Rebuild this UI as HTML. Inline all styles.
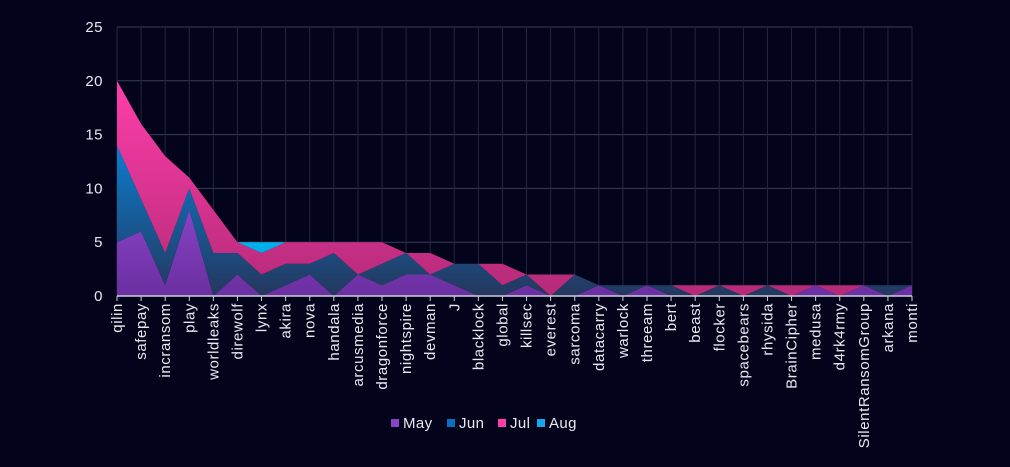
<!DOCTYPE html>
<html><head><meta charset="utf-8"><style>
html,body{margin:0;padding:0;background:#03041c;}
svg{display:block;font-family:"Liberation Sans",sans-serif;}
</style></head><body>
<svg id="chart" width="1010" height="467">
<defs>
<linearGradient id="gMay" gradientUnits="userSpaceOnUse" x1="0" y1="200" x2="0" y2="296"><stop offset="0" stop-color="#8a44c8"/><stop offset="1" stop-color="#6a2fa0"/></linearGradient>
<linearGradient id="gJun" gradientUnits="userSpaceOnUse" x1="0" y1="140" x2="0" y2="296"><stop offset="0" stop-color="#0a7fd0"/><stop offset="1" stop-color="#24375e"/></linearGradient>
<linearGradient id="gJul" gradientUnits="userSpaceOnUse" x1="0" y1="80" x2="0" y2="296"><stop offset="0" stop-color="#ff3eaa"/><stop offset="1" stop-color="#b42a78"/></linearGradient>
<linearGradient id="gAug" gradientUnits="userSpaceOnUse" x1="0" y1="240" x2="0" y2="296"><stop offset="0" stop-color="#00b4ee"/><stop offset="1" stop-color="#0090d0"/></linearGradient>
</defs>
<g id="grid"></g><g id="areas"></g><g id="axes"></g><g id="legend"></g>
</svg>
<script>
const categories=["qilin","safepay","incransom","play","worldleaks","direwolf","lynx","akira","nova","handala","arcusmedia","dragonforce","nightspire","devman","J","blacklock","global","killsec","everest","sarcoma","datacarry","warlock","threeam","bert","beast","flocker","spacebears","rhysida","BrainCipher","medusa","d4rk4rmy","SilentRansomGroup","arkana","monti"];
const may=[5,6,1,8,0,2,0,1,2,0,2,1,2,2,1,0,0,1,0,0,1,0,1,0,0,0,0,0,0,1,0,1,0,1];
const jun=[9,3,3,2,4,2,2,2,1,4,0,2,2,0,2,3,1,1,0,2,0,1,0,1,0,1,0,1,0,0,0,0,1,0];
const jul=[6,7,9,1,4,1,2,2,2,1,3,2,0,2,0,0,2,0,2,0,0,0,0,0,1,0,1,0,1,0,1,0,0,0];
const aug=[0,0,0,0,0,0,1,0,0,0,0,0,0,0,0,0,0,0,0,0,0,0,0,0,0,0,0,0,0,0,0,0,0,0];
const yTicks=[0,5,10,15,20,25];
const seriesNames=["May","Jun","Jul","Aug"];
const NS="http://www.w3.org/2000/svg";
const X0=117,X1=912,Y0=296,Y1=27,YMAX=25;
const x=i=>X0+i*(X1-X0)/(categories.length-1);
const y=v=>Y0-v*(Y0-Y1)/YMAX;
function mk(tag,attrs,parent){const e=document.createElementNS(NS,tag);for(const k in attrs)e.setAttribute(k,attrs[k]);parent.appendChild(e);return e;}
const grid=document.getElementById('grid'),areas=document.getElementById('areas'),axes=document.getElementById('axes'),legend=document.getElementById('legend');
yTicks.forEach(t=>{
  const l=mk('line',{x1:X0,x2:X1,y1:y(t),y2:y(t),stroke:'#3a3d5a','stroke-width':1},grid);
  
  
  const tx=mk('text',{x:103,y:y(t)+5,'text-anchor':'end',fill:'#e8e8f0','font-size':15,'letter-spacing':0.5},axes);
  tx.textContent=t;
  
  
});
categories.forEach((c,i)=>{
  const l=mk('line',{x1:x(i),x2:x(i),y1:Y1,y2:Y0,stroke:'#23263f','stroke-width':1},grid);
  
  
});
const series=[may,jun,jul,aug],fills=['url(#gMay)','url(#gJun)','url(#gJul)','url(#gAug)'];
let base=categories.map(()=>0);
series.forEach((s,k)=>{
  const top=base.map((b,i)=>b+s[i]);
  let d='M'+categories.map((c,i)=>x(i)+','+y(top[i])).join(' L');
  for(let i=categories.length-1;i>=0;i--)d+=' L'+x(i)+','+y(base[i]);
  d+=' Z';
  const p=mk('path',{d:d,fill:fills[k]},areas);
  
  
  base=top;
});
const ax=mk('line',{x1:X0,x2:X1,y1:Y0,y2:Y0,stroke:'#cfd0dc','stroke-width':1.5},axes);


categories.forEach((c,i)=>{
  const t=mk('line',{x1:x(i),x2:x(i),y1:Y0,y2:Y0+5,stroke:'#cfd0dc'},axes);
  
  
  const tx=mk('text',{transform:'translate('+(x(i)+5)+','+(Y0+7)+') rotate(-90)','text-anchor':'end',fill:'#e8e8f0','font-size':15,'letter-spacing':0.6},axes);
  tx.textContent=c;
  
  
});
const legendX=[391,447,498,537],legendColors=['#8a44c8','#0a6fc0','#ff3eaa','#14a8e6'];
seriesNames.forEach((n,k)=>{
  const g=mk('g',{},legend);
  
  
  mk('rect',{x:legendX[k],y:419,width:8,height:8,fill:legendColors[k]},g);
  const t=mk('text',{x:legendX[k]+12,y:428,fill:'#e8e8f0','font-size':15,'letter-spacing':0.4},g);
  t.textContent=n;
});
</script>
</body></html>
